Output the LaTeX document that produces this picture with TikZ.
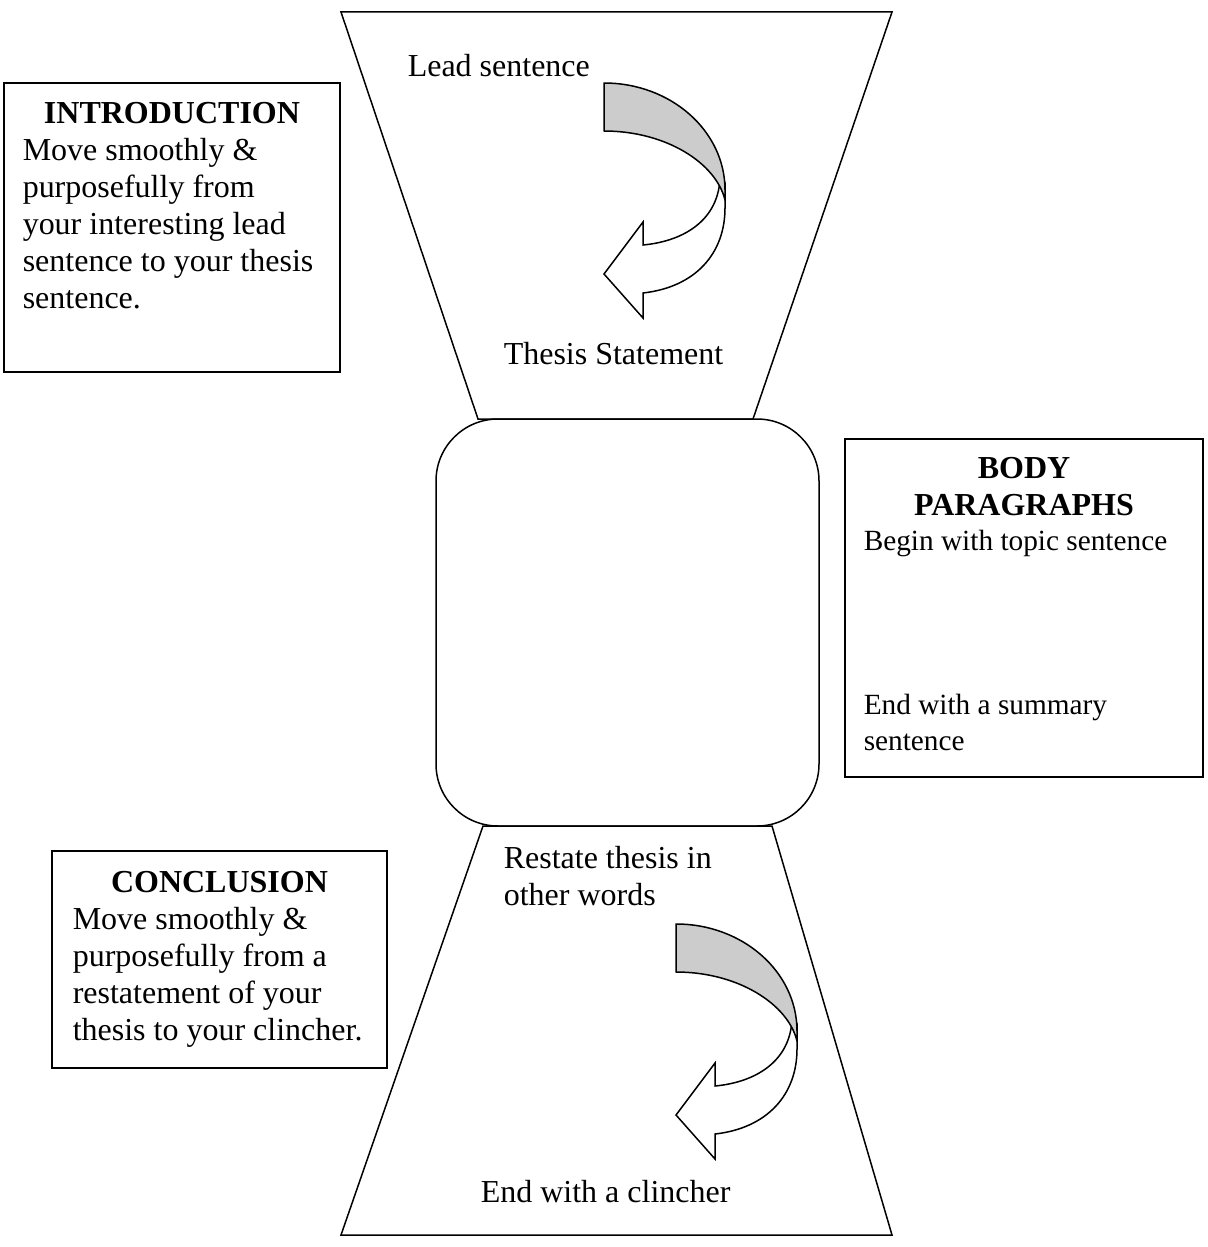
\documentclass[tikz,border=0pt]{standalone}
\usepackage{fontspec}
\setmainfont{Liberation Serif}
\definecolor{ribbon}{RGB}{204,204,204}
\newcommand{\curvedribbon}[2]{%
  \begin{scope}[shift={(#1,#2)}]
    \draw[fill=white] (116,88) .. controls (118,135) and (82,158) .. (39,162)
      -- (39,139) -- (0,191) -- (39,235) -- (39,210)
      .. controls (92,204) and (121,170) .. (121,125) -- (121,100) -- cycle;
    \draw[fill=ribbon,line join=round] (0,0) .. controls (67,0) and (121,48) .. (121,107)
      -- (121,117) .. controls (112,80) and (62,48) .. (0,48) -- cycle;
  \end{scope}}
\begin{document}
\begin{tikzpicture}[x=1pt,y=-1pt,line width=1.5pt,line join=miter,
  txt/.style={anchor=base west,inner sep=0pt,font=\fontsize{32}{37}\selectfont},
  stxt/.style={anchor=base west,inner sep=0pt,font=\fontsize{29.3}{34}\selectfont},
  ttl/.style={anchor=base,inner sep=0pt,font=\fontsize{32}{37}\selectfont\bfseries},
  frame/.style={draw,rectangle,inner sep=0pt,fill=white}]
\useasboundingbox (0,0) rectangle (1207,1247);

% funnel shapes
\draw (341,12) -- (892,12) -- (753,419) -- (478,419) -- cycle;
\draw (483,826) -- (772,826) -- (892,1235) -- (341,1235) -- cycle;
\node[draw,rectangle,rounded corners=62pt,minimum width=383pt,minimum height=407pt,inner sep=0pt] (body) at (627.5,622.5) {};

% curved arrows
\curvedribbon{604}{83}
\curvedribbon{676}{924}

% side boxes
\node[frame,minimum width=336pt,minimum height=289pt] (intro) at (172,227.5) {};
\node[frame,minimum width=358pt,minimum height=338pt] (bodybox) at (1024,608) {};
\node[frame,minimum width=335pt,minimum height=217pt] (concl) at (219.5,959.5) {};

% funnel texts
\node[txt] (lead) at (407,77) {Lead sentence};
\node[txt] (thesis) at (503,364) {Thesis Statement};
\node[txt] (restate1) at (503,868) {Restate thesis in};
\node[txt] (restate2) at (503,905) {other words};
\node[txt] (clincher) at (480,1202) {End with a clincher};

% introduction box text
\node[ttl] (introT) at (172,123) {INTRODUCTION};
\node[txt] (i1) at (22,160) {Move smoothly \&};
\node[txt] (i2) at (22,197) {purposefully from};
\node[txt] (i3) at (22,234) {your interesting lead};
\node[txt] (i4) at (22,271) {sentence to your thesis};
\node[txt] (i5) at (22,308) {sentence.};

% body box text
\node[ttl] (bodyT1) at (1024,478) {BODY};
\node[ttl] (bodyT2) at (1024,515) {PARAGRAPHS};
\node[stxt] (b1) at (863,550) {Begin with topic sentence};
\node[stxt] (b2) at (863,714) {End with a summary};
\node[stxt] (b3) at (863,750) {sentence};

% conclusion box text
\node[ttl] (conclT) at (219.5,892) {CONCLUSION};
\node[txt] (c1) at (72,929) {Move smoothly \&};
\node[txt] (c2) at (72,966) {purposefully from a};
\node[txt] (c3) at (72,1003) {restatement of your};
\node[txt] (c4) at (72,1040) {thesis to your clincher.};
\end{tikzpicture}
\end{document}
